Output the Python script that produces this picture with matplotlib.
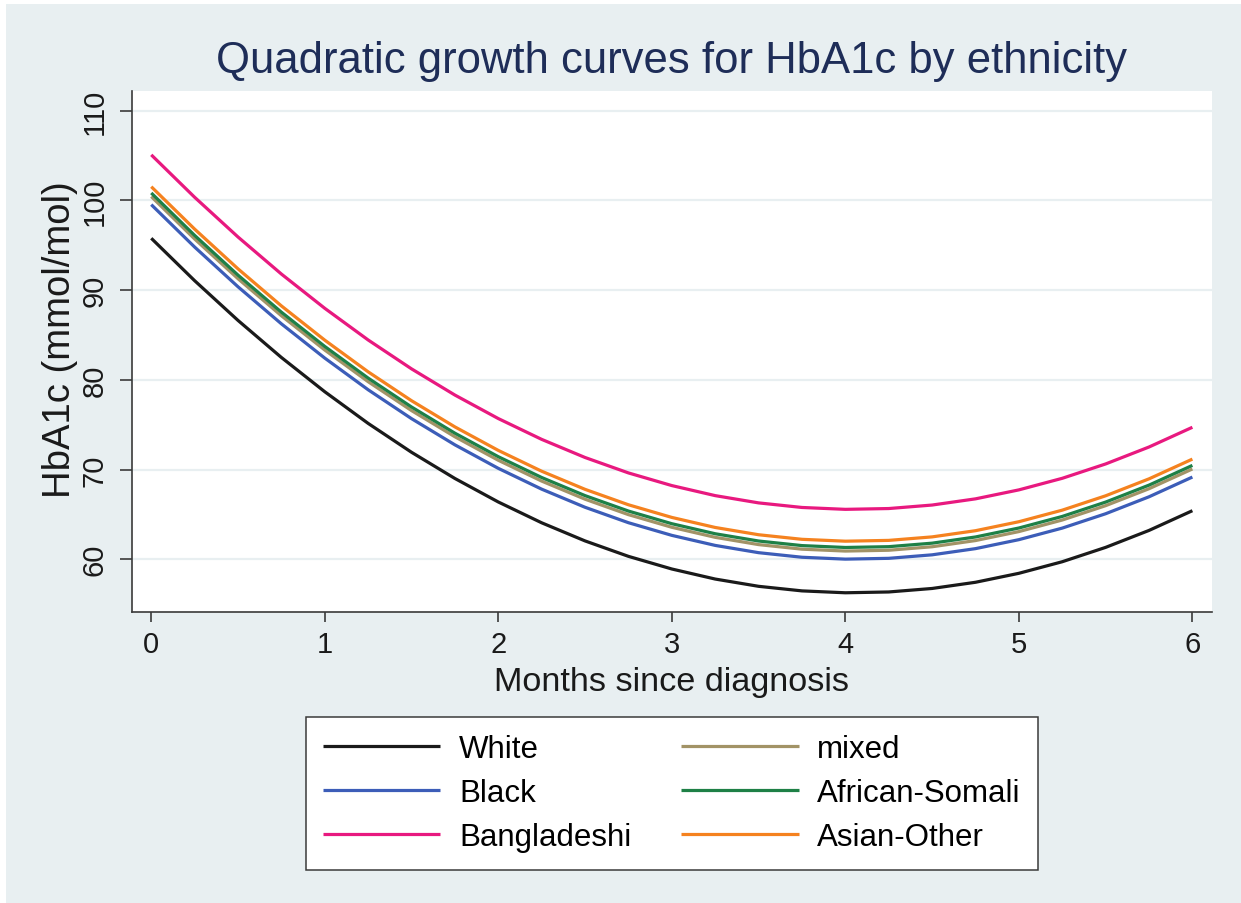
import matplotlib
matplotlib.use('Agg')
import matplotlib.pyplot as plt
from matplotlib.patches import Rectangle

plt.rcParams['font.family'] = ['Liberation Sans', 'DejaVu Sans']

# months since diagnosis, every quarter month
months = [i * 0.25 for i in range(25)]

# predicted HbA1c (mmol/mol) per ethnic group
white = [95.78, 91.05, 86.62, 82.49, 78.67, 75.14, 71.92, 69.00, 66.38, 64.06, 62.04, 60.32, 58.91,
         57.79, 56.98, 56.47, 56.26, 56.35, 56.74, 57.43, 58.43, 59.72, 61.32, 63.21, 65.41]
black = [99.53, 94.80, 90.37, 86.24, 82.42, 78.89, 75.67, 72.75, 70.13, 67.81, 65.79, 64.07, 62.66,
         61.54, 60.73, 60.22, 60.01, 60.10, 60.49, 61.18, 62.18, 63.47, 65.07, 66.96, 69.16]
bangladeshi = [105.08, 100.35, 95.92, 91.79, 87.97, 84.44, 81.22, 78.30, 75.68, 73.36, 71.34, 69.62, 68.21,
               67.09, 66.28, 65.77, 65.56, 65.65, 66.04, 66.73, 67.73, 69.02, 70.62, 72.51, 74.71]
mixed = [100.43, 95.70, 91.27, 87.14, 83.32, 79.79, 76.57, 73.65, 71.03, 68.71, 66.69, 64.97, 63.56,
         62.44, 61.63, 61.12, 60.91, 61.00, 61.39, 62.08, 63.08, 64.37, 65.97, 67.86, 70.06]
african_somali = [100.83, 96.10, 91.67, 87.54, 83.72, 80.19, 76.97, 74.05, 71.43, 69.11, 67.09, 65.37, 63.96,
                  62.84, 62.03, 61.52, 61.31, 61.40, 61.79, 62.48, 63.48, 64.77, 66.37, 68.26, 70.46]
asian_other = [101.53, 96.80, 92.37, 88.24, 84.42, 80.89, 77.67, 74.75, 72.13, 69.81, 67.79, 66.07, 64.66,
               63.54, 62.73, 62.22, 62.01, 62.10, 62.49, 63.18, 64.18, 65.47, 67.07, 68.96, 71.16]

groups = ['White', 'Black', 'Bangladeshi', 'mixed', 'African-Somali', 'Asian-Other']
series = [white, black, bangladeshi, mixed, african_somali, asian_other]
colors = ['#1a1a1a', '#3c5db8', '#e8197f', '#a29366', '#1e8046', '#f5821f']

xticks = [0, 1, 2, 3, 4, 5, 6]
yticks = [60, 70, 80, 90, 100, 110]

bg = '#e8eff1'
fig = plt.figure(figsize=(12.41, 9.04), dpi=100, facecolor='white')
fig.patches.append(Rectangle((6 / 1241, 0), 1, 1 - 5 / 904, transform=fig.transFigure,
                             facecolor=bg, edgecolor='none', zorder=-10))

ax = fig.add_axes([132 / 1241, 1 - 612.7 / 904, 1080 / 1241, 521 / 904])
ax.set_facecolor('white')

for vals, name, col in zip(series, groups, colors):
    ax.plot(months, vals, color=col, lw=2.3, label=name, solid_capstyle='butt')

ax.set_xlim(-0.111, 6.113)
ax.set_ylim(54.15, 112.23)
ax.set_xticks(xticks)
ax.set_yticks(yticks)
ax.grid(axis='y', color=bg, lw=1.6)
ax.set_axisbelow(True)

for s in ['top', 'right']:
    ax.spines[s].set_visible(False)
for s in ['left', 'bottom']:
    ax.spines[s].set_color('#3a3a3a')
    ax.spines[s].set_linewidth(1.2)

ax.tick_params(axis='x', length=7.5, width=1.2, color='#3a3a3a', labelsize=21, pad=6, labelcolor='#1a1a1a')
ax.tick_params(axis='y', length=9, width=1.2, color='#3a3a3a', labelsize=21, pad=8, labelcolor='#1a1a1a')
plt.setp(ax.get_yticklabels(), rotation=90, va='center')

ax.set_xlabel('Months since diagnosis', fontsize=24.7, color='#1a1a1a')
ax.xaxis.set_label_coords(0.5, -0.104)
ax.set_ylabel('HbA1c (mmol/mol)', fontsize=27.5, color='#1a1a1a')
ax.yaxis.set_label_coords(-0.05, 0.525)

fig.text(672 / 1241, 1 - 62 / 904, 'Quadratic growth curves for HbA1c by ethnicity',
         ha='center', va='center', fontsize=31.4, color='#1e2d58')

leg = ax.legend(loc='upper center', bbox_to_anchor=(672 / 1241, 1 - 718 / 904),
                bbox_transform=fig.transFigure, ncol=2, fontsize=22.5, frameon=True,
                fancybox=False, handlelength=3.75, handletextpad=0.6, columnspacing=1.6,
                labelspacing=0.45, borderpad=0.55, borderaxespad=0)
frame = leg.get_frame()
frame.set_edgecolor('#3a3a3a')
frame.set_linewidth(1.1)
frame.set_facecolor('white')
frame.set_alpha(1)

fig.savefig('out.png', dpi=100, facecolor=fig.get_facecolor())
